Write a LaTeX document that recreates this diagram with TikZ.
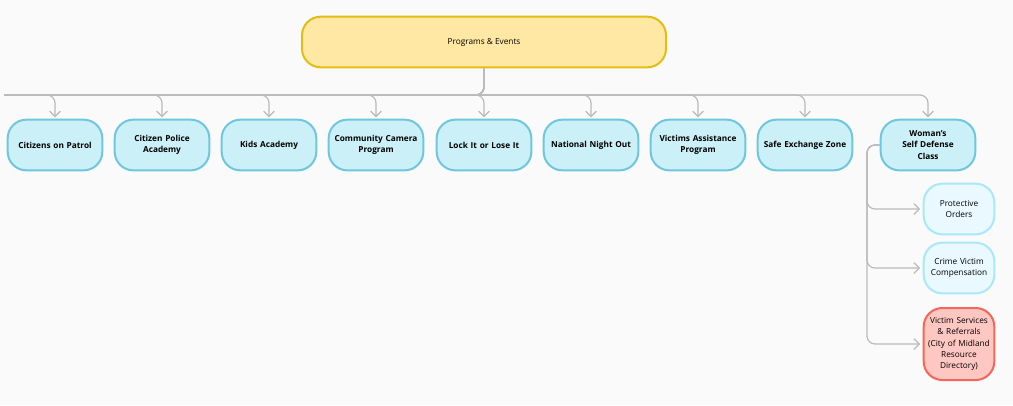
\documentclass[tikz,border=0pt]{standalone}
\usepackage{fontspec}
\setmainfont{Open Sans}
\usetikzlibrary{arrows.meta}
\definecolor{bgc}{HTML}{FAFAFA}
\definecolor{topfill}{HTML}{FFE8A3}
\definecolor{topline}{HTML}{E2BE14}
\definecolor{kidfill}{HTML}{CBF0F8}
\definecolor{kidline}{HTML}{6FC7DF}
\definecolor{subfill}{HTML}{E9F9FF}
\definecolor{subline}{HTML}{A9E7FA}
\definecolor{redfill}{HTML}{FFC7C1}
\definecolor{redline}{HTML}{F2675B}
\definecolor{connc}{HTML}{BBBBBB}
\tikzset{
	box/.style={draw, line width=1.5pt, rounded corners=14pt, align=center, inner sep=0pt,
		font=\fontsize{6.2}{8.5}\selectfont},
	toplevel/.style={box, fill=topfill, draw=topline, minimum width=273pt, minimum height=38pt},
	program/.style={box, fill=kidfill, draw=kidline, minimum width=71pt, minimum height=38pt,
		text width=66pt, font=\fontsize{6.2}{8.5}\selectfont\bfseries},
	service/.style={box, fill=subfill, draw=subline, minimum width=53pt, minimum height=38pt, text width=50pt},
	referral/.style={service, fill=redfill, draw=redline, minimum height=54pt},
	conn/.style={draw=connc, line width=0.9pt, rounded corners=6pt, -{Straight Barb[length=4pt,width=8pt]}}
}
\begin{document}
\begin{tikzpicture}[x=0.75pt,y=0.75pt,yscale=-1,xscale=1]
	\fill[bgc] (0,0) rectangle (1013,405);
	\useasboundingbox (0,0) rectangle (1013,405);

	% root
	\node[toplevel] (events) at (484,42) {Programs \& Events};

	% programs
	\node[program] (patrol) at (55,145) {Citizens on Patrol};
	\node[program] (academy) at (162,145) {Citizen Police\\Academy};
	\node[program] (kids) at (269,145) {Kids Academy};
	\node[program] (camera) at (376,145) {Community Camera\\Program};
	\node[program] (lock) at (484,145) {Lock It or Lose It};
	\node[program] (night) at (591,145) {National Night Out};
	\node[program] (victims) at (698,145) {Victims Assistance\\Program};
	\node[program] (exchange) at (805,145) {Safe Exchange Zone};
	\node[program] (defense) at (928,145) {Woman's Self Defense\\Class};

	% services
	\node[service] (orders) at (959,209) {Protective\\Orders};
	\node[service] (comp) at (959,268) {Crime Victim\\Compensation};
	\node[referral] (refer) at (959,344) {Victim Services\\\& Referrals\\(City of Midland\\Resource\\Directory)};

	% connectors
	\foreach \kid in {patrol,academy,kids,camera,lock,night,victims,exchange,defense}
		\draw[conn] (events.south) |- (0,95) -| ([yshift=-1pt]\kid.north);
	\coordinate (trunk) at (867,145);
	\foreach \sub in {orders,comp,refer}
		\draw[conn] (defense.west) -- (trunk) |- ([xshift=-2pt]\sub.west);

\end{tikzpicture}
\end{document}
